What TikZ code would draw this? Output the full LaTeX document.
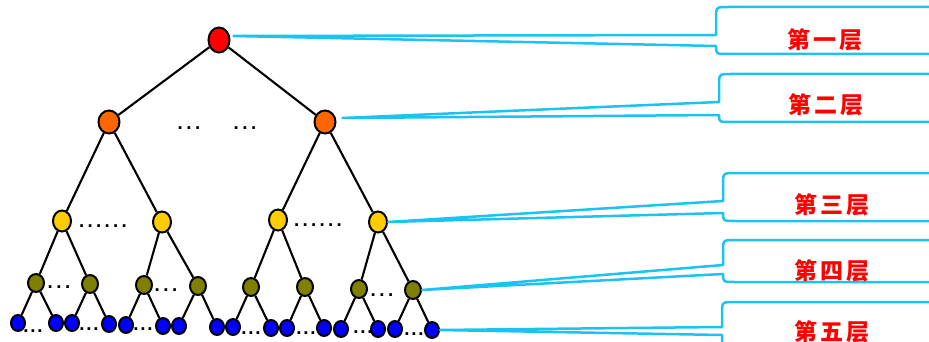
\documentclass[tikz,border=0pt]{standalone}
\usepackage{fontspec}
\newfontfamily\cjk{Noto Sans CJK SC}
\newfontfamily\dotfont{DejaVu Sans}
\usetikzlibrary{shapes.geometric,calc}
\definecolor{cyanc}{HTML}{1CC2F2}
\definecolor{orangec}{HTML}{FF6600}
\definecolor{yellowc}{HTML}{FFCC00}
\definecolor{olivec}{HTML}{808000}
\newcommand\dotrow[2]{.\foreach\k in {2,...,#1}{\hspace{#2}.}}
\newcommand\callout[7]{% xl, yt, yp1, tip, yp2, yb, r
  \draw[callout] (960,#2) -- ($(#1,#2)+(#7,0)$) .. controls (#1,#2) .. ($(#1,#2)+(0,#7)$)
    -- (#1,#3) -- (#4) -- (#1,#5) .. controls (#1,#6) .. ($(#1,#6)+(#7,0)$) -- (960,#6);}
\begin{document}
\begin{tikzpicture}[x=1pt,y=-1pt,
  nd/.style={ellipse,draw=black,line width=2pt,inner sep=0pt},
  lone/.style={nd,fill=red,minimum width=21pt,minimum height=25pt},
  ltwo/.style={nd,fill=orangec,minimum width=21pt,minimum height=23pt},
  lthree/.style={nd,fill=yellowc,minimum width=18pt,minimum height=21pt},
  lfour/.style={nd,fill=olivec,minimum width=16pt,minimum height=18pt},
  lfive/.style={nd,fill=blue,minimum width=14pt,minimum height=16pt},
  edgeline/.style={draw=black,line width=2.1pt},
  callout/.style={draw=cyanc,line width=2.5pt,line join=round},
  lbl/.style={text=red,inner sep=0pt,font={\cjk\bfseries\fontsize{23}{23}\selectfont}},
  dts/.style={inner sep=0pt,font={\dotfont\bfseries\fontsize{15}{15}\selectfont}}]
\useasboundingbox (0,0) rectangle (929,342);
\clip (0,0) rectangle (929,342);
% tree nodes
\node[lone] (r) at (219,40) {};
\node[ltwo] (a) at (109,122) {};
\node[ltwo] (b) at (325,122) {};
\node[lthree] (a1) at (62,221) {};
\node[lthree] (a2) at (162,222) {};
\node[lthree] (b1) at (278,220) {};
\node[lthree] (b2) at (378,222) {};
\node[lfour] (c1) at (36,283) {};
\node[lfour] (c2) at (90,284) {};
\node[lfour] (c3) at (144,285) {};
\node[lfour] (c4) at (198,286) {};
\node[lfour] (c5) at (251,287) {};
\node[lfour] (c6) at (305,287) {};
\node[lfour] (c7) at (359,289) {};
\node[lfour] (c8) at (413,290) {};
\foreach \n/\x/\y in {d1/18/323,d2/56/323,d3/72/323,d4/109/324,d5/126/325,d6/163/326,d7/179/326,d8/217/327,
  d9/233/327,d10/271/328,d11/287/328,d12/324/328,d13/341/329,d14/378/329,d15/395/329,d16/432/330}
  \node[lfive] (\n) at (\x,\y) {};
% edges
\foreach \p/\c in {r/a,r/b,a/a1,a/a2,b/b1,b/b2,a1/c1,a1/c2,a2/c3,a2/c4,b1/c5,b1/c6,b2/c7,b2/c8,
  c1/d1,c1/d2,c2/d3,c2/d4,c3/d5,c3/d6,c4/d7,c4/d8,c5/d9,c5/d10,c6/d11,c6/d12,c7/d13,c7/d14,c8/d15,c8/d16}
  \draw[edgeline] (\p) -- (\c);
% dots
\node[dts] (e1) at (189,128) {\dotrow{3}{3pt}};
\node[dts] (e2) at (245,128) {\dotrow{3}{3pt}};
\node[dts] (e3) at (103,226) {\dotrow{6}{2.8pt}};
\node[dts] (e4) at (318,225) {\dotrow{6}{2.8pt}};
\node[dts] (e5) at (59,287) {\dotrow{3}{3pt}};
\node[dts] (e6) at (166,290) {\dotrow{3}{3pt}};
\node[dts] (e7) at (382,295) {\dotrow{3}{3pt}};
\foreach \n/\x/\y in {f1/33/331,f2/89/329,f3/143/329,f4/251/333,f5/306/333,f6/363/332,f7/414/334}
  \node[dts] (\n) at (\x,\y) {\dotrow{3}{1.3pt}};
% callouts
\coordinate (t1) at ($(r.east)+(3,-4)$);
\coordinate (t2) at ($(b.east)+(6,-4)$);
\coordinate (t3) at ($(b2.east)$);
\coordinate (t4) at ($(c8.east)$);
\coordinate (t5) at ($(d16.east)$);
\callout{716}{7}{35}{t1}{46}{54}{12}
\callout{719}{74}{102}{t2}{115}{122}{12}
\callout{723}{173}{201}{t3}{213}{221}{12}
\callout{723}{240}{265}{t4}{274}{282}{12}
\callout{722}{302}{327}{t5}{335}{372}{12}
% labels
\node[lbl] (L1) at (825,40) {第\hspace{3pt}一\hspace{3pt}层};
\node[lbl] (L2) at (826,105) {第\hspace{3pt}二\hspace{3pt}层};
\node[lbl] (L3) at (832,205) {第\hspace{3pt}三\hspace{3pt}层};
\node[lbl] (L4) at (832,271) {第\hspace{3pt}四\hspace{3pt}层};
\node[lbl] (L5) at (832,332) {第\hspace{3pt}五\hspace{3pt}层};
\end{tikzpicture}
\end{document}
